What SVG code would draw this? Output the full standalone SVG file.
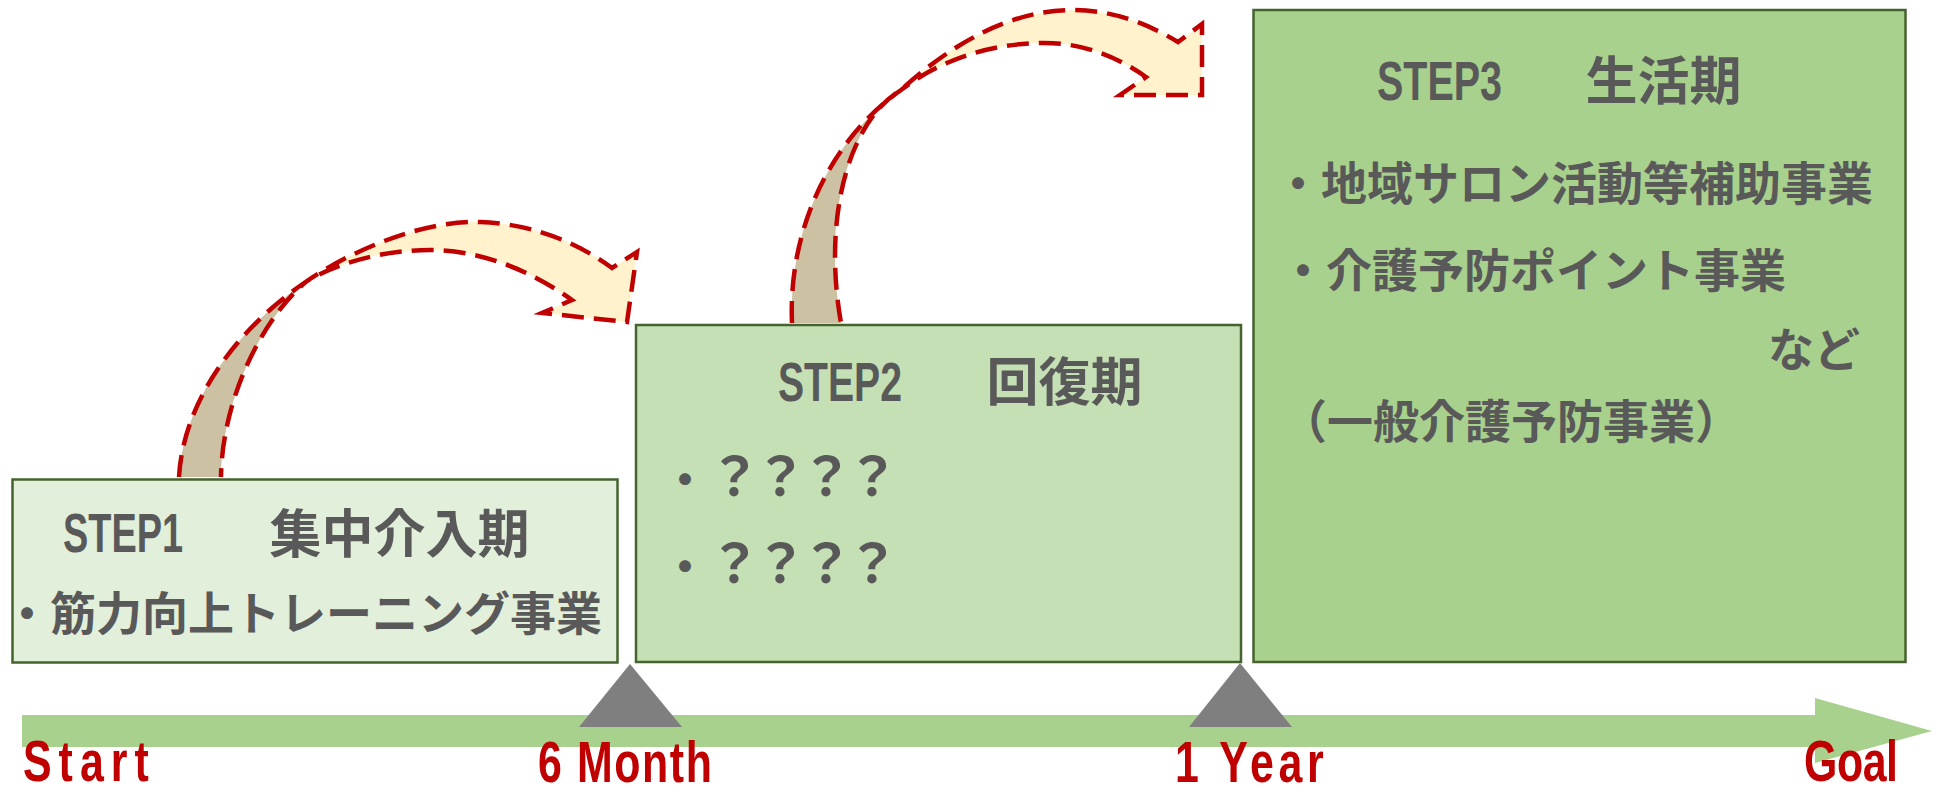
<svg xmlns="http://www.w3.org/2000/svg" width="1936" height="793" viewBox="0 0 1936 793">
<style>
.box{stroke:#44632e;stroke-width:2.5}
.cj{font-family:"Noto Sans CJK JP","Noto Sans CJK SC",sans-serif;font-weight:bold;fill:#595959}
.lat{font-family:"Liberation Sans",Arial,sans-serif;font-weight:bold;fill:#595959;font-size:56px}
.red{font-family:"Liberation Sans",Arial,sans-serif;font-weight:bold;fill:#c00000;font-size:58px}
.tan{fill:#ccc2a3}
.cream{fill:#fff2cc}
.dash{fill:none;stroke:#c00000;stroke-width:4.5;stroke-dasharray:22 10;stroke-linejoin:miter}
.mark{fill:#7f7f7f}
.q{font-size:53px;letter-spacing:-7px}
</style>
<rect width="1936" height="793" fill="#ffffff"/>

<g id="timeline">
<polygon points="22,715 1815,715 1815,698 1932,731 1815,763 1815,747 22,747" fill="#a9d18e"/>
</g>

<g id="connectors">
<g id="arrow-1-2">
<path class="tan" d="M179,477 C183,405 232,332 307,281 C262,318 222,400 221,477 Z"/>
<path class="cream" d="M307,281 C360,245 430,220 480,222 C540,224 585,248 612,268 L637,252 L627,322 L542,313 L572,300 C530,270 480,250 430,250 C385,250 340,262 307,281 Z"/>
<path class="dash" d="M179,477 C183,405 232,332 307,281 C340,262 385,250 430,250 C480,250 530,270 572,300 L542,313 L627,322 L637,252 L612,268 C585,248 540,224 480,222 C430,220 360,245 307,281 C262,318 222,400 221,477"/>
</g>
<g id="arrow-2-3">
<path class="tan" d="M792,323 C788,230 830,140 901,90 C850,120 822,215 841,323 Z"/>
<path class="cream" d="M901,90 C950,45 1010,10 1072,10 C1115,10 1150,25 1178,42 L1202,24 L1202,95 L1120,95 L1146,77 C1115,55 1080,43 1045,43 C990,43 940,60 901,90 Z"/>
<path class="dash" d="M792,323 C788,230 830,140 901,90 C940,60 990,43 1045,43 C1080,43 1115,55 1146,77 L1120,95 L1202,95 L1202,24 L1178,42 C1150,25 1115,10 1072,10 C1010,10 950,45 901,90 C850,120 822,215 841,323"/>
</g>
</g>

<g id="step1">
<rect class="box" x="12.5" y="479.5" width="605" height="183" fill="#e2efda"/>
<text class="lat" x="63" y="552" textLength="120" lengthAdjust="spacingAndGlyphs">STEP1</text>
<text class="cj" x="269.5" y="553" font-size="52">集中介入期</text>
<text class="cj" x="4" y="630" font-size="46">・筋力向上トレーニング事業</text>
</g>

<g id="step2">
<rect class="box" x="636" y="325" width="605" height="337" fill="#c5e0b4"/>
<text class="lat" x="778" y="401" textLength="124" lengthAdjust="spacingAndGlyphs">STEP2</text>
<text class="cj" x="986.5" y="401" font-size="52">回復期</text>
<text class="cj" x="662" y="496" font-size="46">・<tspan class="q">？？？？</tspan></text>
<text class="cj" x="662" y="583" font-size="46">・<tspan class="q">？？？？</tspan></text>
</g>

<g id="step3">
<rect class="box" x="1253.5" y="10" width="652" height="652" fill="#a9d18e"/>
<text class="lat" x="1377" y="100" textLength="125" lengthAdjust="spacingAndGlyphs">STEP3</text>
<text class="cj" x="1585.5" y="100" font-size="52">生活期</text>
<text class="cj" x="1275" y="200" font-size="46">・地域サロン活動等補助事業</text>
<text class="cj" x="1280" y="287" font-size="46">・介護予防ポイント事業</text>
<text class="cj" x="1768" y="366" font-size="46">など</text>
<text class="cj" x="1281" y="438" font-size="46">（一般介護予防事業）</text>
</g>

<g id="milestones">
<polygon class="mark" points="630,664 579,727 682,727"/>
<polygon class="mark" points="1240,663 1189,727 1292,727"/>
</g>

<g id="labels">
<text class="red" transform="translate(23,781) scale(0.74,1)" textLength="170" lengthAdjust="spacing">Start</text>
<text class="red" transform="translate(538,782) scale(0.74,1)" textLength="235" lengthAdjust="spacing">6 Month</text>
<text class="red" transform="translate(1175,782) scale(0.74,1)" textLength="201" lengthAdjust="spacing">1 Year</text>
<text class="red" transform="translate(1804,781) scale(0.74,1)" textLength="127" lengthAdjust="spacing">Goal</text>
</g>
</svg>
